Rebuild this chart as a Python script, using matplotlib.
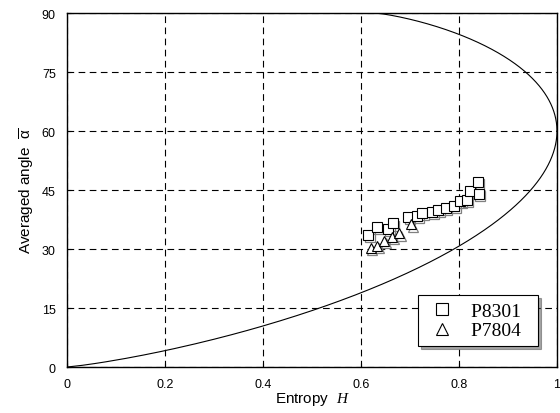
import numpy as np
import matplotlib.pyplot as plt
import matplotlib.transforms as mtransforms

plt.rcParams['mathtext.fontset'] = 'custom'
plt.rcParams['mathtext.rm'] = 'Liberation Sans'
plt.rcParams['mathtext.it'] = 'Liberation Serif:italic'

# P8301 measurements (entropy H, averaged alpha)
p8301_h = [0.615, 0.632, 0.655, 0.665, 0.696, 0.715, 0.725, 0.745, 0.758, 0.773,
           0.790, 0.802, 0.816, 0.822, 0.838, 0.840]
p8301_a = [33.7, 35.6, 35.1, 36.5, 38.1, 38.4, 39.1, 39.5, 40.0, 40.4,
           41.0, 42.3, 42.5, 44.8, 47.1, 44.0]

# P7804 measurements
p7804_h = [0.620, 0.633, 0.648, 0.663, 0.678, 0.703]
p7804_a = [30.2, 30.9, 32.0, 33.0, 34.0, 36.3]

xticks = [0, 0.2, 0.4, 0.6, 0.8, 1]
xticklabels = ['0', '0.2', '0.4', '0.6', '0.8', '1']
yticks = [0, 15, 30, 45, 60, 75, 90]

# H-alpha feasible region boundary (theoretical curves)
m = np.linspace(1e-6, 1, 400)


def entropy(vals):
    p = vals / vals.sum(axis=0)
    p = np.clip(p, 1e-12, 1)
    return -(p * np.log(p) / np.log(3)).sum(axis=0)


ev1 = np.vstack([np.ones_like(m), m, m])
h1 = entropy(ev1)
a1 = 90 * 2 * m / (1 + 2 * m)

m2 = np.linspace(0.5, 1, 400)
ev2 = np.vstack([2 * m2 - 1, np.ones_like(m2), np.ones_like(m2)])
h2 = entropy(ev2)
a2 = 90 * 2 / (2 * m2 + 1)

fig = plt.figure(figsize=(5.6, 4.14), dpi=100)
ax = fig.add_axes([0.1196, 0.111, 0.875, 0.855])

ax.plot(h1, a1, color='black', lw=0.8)
ax.plot(h2, a2, color='black', lw=0.8)

shadow = mtransforms.offset_copy(ax.transData, fig=fig, x=1.2, y=-1.6, units='points')
ax.plot(p8301_h, p8301_a, 's', ms=7.5, mfc='none', mec='#808080', mew=0.9,
        transform=shadow)
ax.plot(p7804_h, p7804_a, '^', ms=7.5, mfc='none', mec='#808080', mew=0.9,
        transform=shadow)
ax.plot(p8301_h, p8301_a, 's', ms=7.5, mfc='white', mec='black', mew=0.8,
        label='P8301  ')
ax.plot(p7804_h, p7804_a, '^', ms=7.5, mfc='white', mec='black', mew=0.8,
        label='P7804  ')

ax.set_xlim(0, 1)
ax.set_ylim(0, 90)
ax.set_xticks(xticks)
ax.set_xticklabels(xticklabels)
ax.set_yticks(yticks)
ax.tick_params(direction='in', length=3, width=0.8, labelsize=9, pad=8)
for lab in ax.get_xticklabels() + ax.get_yticklabels():
    lab.set_fontfamily('Liberation Sans')
ax.grid(True, color='black', linestyle=(0, (6, 4)), lw=0.8)
for s in ax.spines.values():
    s.set_linewidth(1.0)

ax.set_xlabel(r'Entropy  $\mathit{H}$', fontsize=11, family='Liberation Sans', labelpad=0)
ax.set_ylabel(r'Averaged angle  $\overline{\mathrm{\alpha}}$', fontsize=11,
              family='Liberation Sans', labelpad=4)

leg = ax.legend(loc='lower right', bbox_to_anchor=(0.961, 0.059), borderaxespad=0,
                frameon=True, fancybox=False, shadow=True, edgecolor='black',
                borderpad=0.35, prop={'family': 'Liberation Serif', 'size': 14},
                handletextpad=0.6, labelspacing=0.1, handlelength=1.8,
                markerscale=1.15)
leg.get_frame().set_linewidth(0.8)

fig.savefig('out.png', dpi=100)
